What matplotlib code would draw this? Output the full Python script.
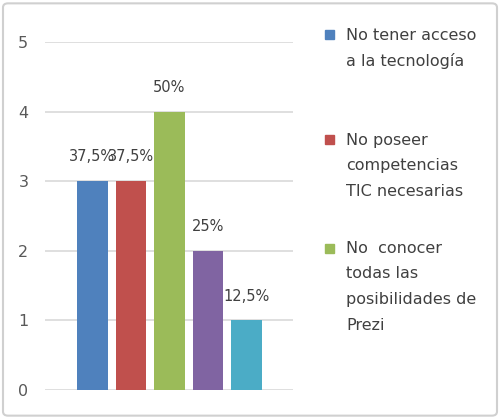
import numpy as np
import matplotlib.pyplot as plt
from matplotlib.patches import FancyBboxPatch, Rectangle

plt.rcParams['font.family'] = ['DejaVu Sans']

# datos
categorias = ['No tener acceso\na la tecnología',
              'No poseer\ncompetencias\nTIC necesarias',
              'No  conocer\ntodas las\nposibilidades de\nPrezi',
              'Otro 1', 'Otro 2']
valores = [3, 3, 4, 2, 1]
etiquetas = ['37,5%', '37,5%', '50%', '25%', '12,5%']
colores = ['#4F81BD', '#C0504D', '#9BBB59', '#8064A2', '#4BACC6']

W, H = 500, 419
fig = plt.figure(figsize=(W / 100, H / 100), dpi=100)
ax = fig.add_axes([0.09, 0.0692, 0.496, 0.8306])

x = np.arange(len(valores))
barras = ax.bar(x, valores, width=0.79, color=colores, zorder=3)

for xi, v, t in zip(x, valores, etiquetas):
    ax.text(xi, v + 0.24, t, ha='center', va='bottom', fontsize=10.5, color='#404040')

ax.set_xlim(-1.23, 5.21)
ax.set_ylim(0, 5)
ax.set_yticks(range(6))
ax.set_xticks([])
ax.yaxis.grid(True, color='#d9d9d9', linewidth=1.2, zorder=0)
for s in ax.spines.values():
    s.set_visible(False)
ax.tick_params(axis='y', length=0, pad=12, labelsize=11.5, labelcolor='#595959')

# leyenda a mano (solo se ven tres entradas)
y_entradas = [35, 140, 248]  # px desde arriba, primera linea de cada entrada
paso = 25.8
for cat, col, y0 in zip(categorias[:3], colores[:3], y_entradas):
    fig.patches.append(Rectangle((325 / W, 1 - (y0 + 4.5) / H), 9 / W, 9 / H,
                                 transform=fig.transFigure, color=col))
    for i, linea in enumerate(cat.split('\n')):
        fig.text(346 / W, 1 - (y0 + i * paso) / H, linea, ha='left', va='center',
                 fontsize=11.5, color='#404040')

# marco exterior
fig.patches.append(FancyBboxPatch((0.006, 0.008), 0.988, 0.984,
                                  boxstyle='round,pad=0,rounding_size=0.01',
                                  transform=fig.transFigure, fill=False,
                                  edgecolor='#d0d0d0', linewidth=1.5))

fig.savefig('out.png', dpi=100)
